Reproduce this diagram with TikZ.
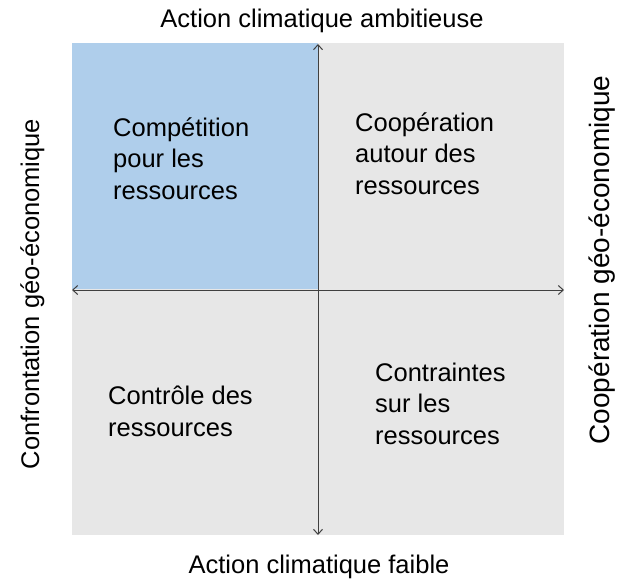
\documentclass[tikz,border=0pt]{standalone}
\usepackage{fontspec}
\setmainfont{Liberation Sans}
\usetikzlibrary{arrows.meta}
\definecolor{blueq}{HTML}{AFCEEB}
\definecolor{grayq}{HTML}{E7E7E7}
\definecolor{axisc}{HTML}{404040}
\begin{document}
\begin{tikzpicture}[x=1pt,y=-1pt,
  quad/.style={draw=none,inner sep=0pt,minimum width=246pt,minimum height=246pt,anchor=north west},
  qtext/.style={inner sep=0pt,anchor=base west,align=left,font=\fontsize{25.5}{31.5}\selectfont},
  title/.style={inner sep=0pt,anchor=base,font=\fontsize{25.5}{31.5}\selectfont},
  axis/.style={draw=axisc,line width=1pt,{Straight Barb[length=5pt,width=9pt]}-{Straight Barb[length=5pt,width=9pt]}}]
\useasboundingbox (0,0) rectangle (618,584);
\node[quad,fill=blueq] (q1) at (72,43) {};
\node[quad,fill=grayq] (q2) at (318,43) {};
\node[quad,fill=grayq] (q3) at (72,289) {};
\node[quad,fill=grayq] (q4) at (318,289) {};
\coordinate (vt) at (318,44);
\coordinate (vb) at (318,535);
\coordinate (hl) at (72,290);
\coordinate (hr) at (564,290);
\draw[axis] (vb) -- (vt);
\draw[axis] (hl) -- (hr);
\node[qtext] (t1) at (113,199) {Compétition\\pour les\\ressources};
\node[qtext] (t2) at (355,194) {Coopération\\autour des\\ressources};
\node[qtext] (t3) at (108,436) {Contrôle des\\ressources};
\node[qtext] (t4) at (375,444) {Contraintes\\sur les\\ressources};
\node[title] (top) at (322,27) {Action climatique ambitieuse};
\node[title] (bot) at (319,573) {Action climatique faible};
\node[title,rotate=90] (left) at (39,294) {Confrontation géo-économique};
\node[title,rotate=90,font=\fontsize{28}{33}\selectfont] (right) at (609,260) {Coopération géo-économique};
\end{tikzpicture}
\end{document}
